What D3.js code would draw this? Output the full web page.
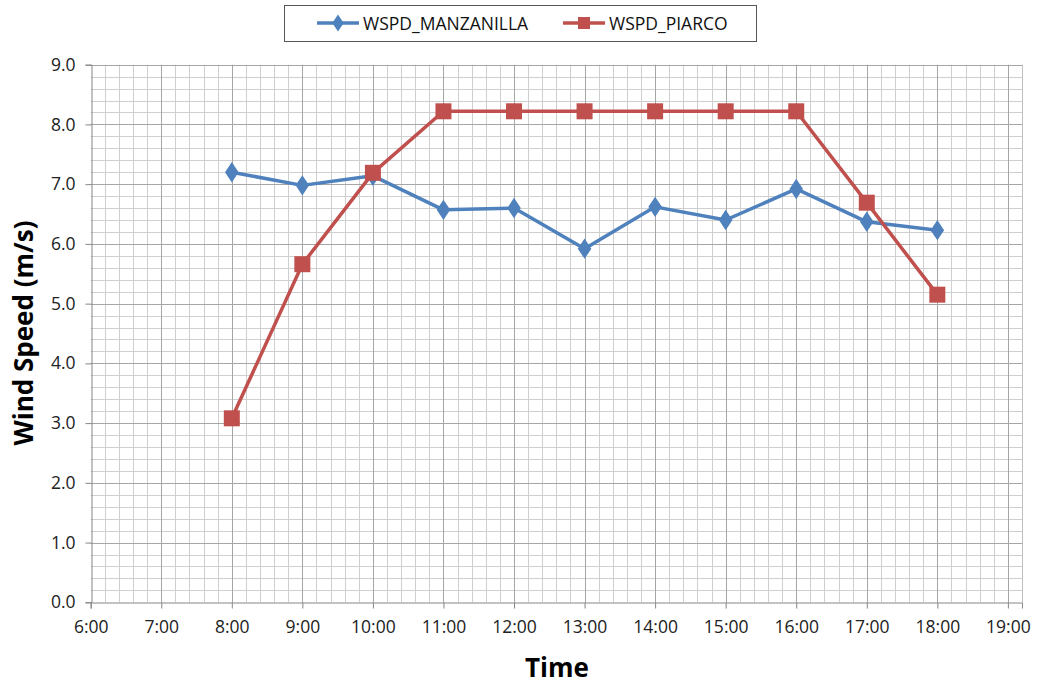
<!DOCTYPE html>
<html><head><meta charset="utf-8">
<script src="https://cdn.jsdelivr.net/npm/d3@7"></script>
<style>body{margin:0;background:#fff;} text{font-family:"Open Sans","Noto Sans",sans-serif;}</style>
</head><body>
<svg id="c" width="1038" height="684"></svg>
<script>
const hours = [8,9,10,11,12,13,14,15,16,17,18];
const manzanilla = [7.20,6.98,7.14,6.57,6.60,5.92,6.62,6.40,6.92,6.37,6.23];
const piarco = [3.08,5.66,7.19,8.22,8.22,8.22,8.22,8.22,8.22,6.69,5.15];
const xTickHours = [6,7,8,9,10,11,12,13,14,15,16,17,18,19];
const yTicks = [0,1,2,3,4,5,6,7,8,9];
const seriesNames = ["WSPD_MANZANILLA","WSPD_PIARCO"];

const svg = d3.select("#c");
const L=90.7, R=1022, T=64.7, B=602.3;
const x = d3.scaleLinear().domain([6,19.2]).range([L,R]);
const y = d3.scaleLinear().domain([0,9]).range([B,T]);

const g = svg.append("g");
const minorX = d3.range(0,67).map(i=>6+i*0.2).filter(v=>Math.abs(v-Math.round(v))>1e-6 && v<=19.2+1e-6);
const minorY = d3.range(0,46).map(i=>i*0.2).filter(v=>Math.abs(v-Math.round(v))>1e-6 && v<=9+1e-6);
g.selectAll(".mx").data(minorX).enter().append("line")
 .attr("x1",d=>Math.round(x(d))+0.5).attr("x2",d=>Math.round(x(d))+0.5).attr("y1",T).attr("y2",B)
 .attr("stroke","#cfcfcf").attr("stroke-width",1);
g.selectAll(".my").data(minorY).enter().append("line")
 .attr("y1",d=>Math.round(y(d))+0.5).attr("y2",d=>Math.round(y(d))+0.5).attr("x1",L).attr("x2",R)
 .attr("stroke","#cfcfcf").attr("stroke-width",1);
g.selectAll(".Mx").data(xTickHours.filter(h=>h>6)).enter().append("line")
 .attr("x1",d=>Math.round(x(d))+0.5).attr("x2",d=>Math.round(x(d))+0.5).attr("y1",T).attr("y2",B)
 .attr("stroke","#a6a6a6").attr("stroke-width",1);
g.selectAll(".My").data(yTicks.filter(v=>v>0)).enter().append("line")
 .attr("y1",d=>Math.round(y(d))+0.5).attr("y2",d=>Math.round(y(d))+0.5).attr("x1",L).attr("x2",R)
 .attr("stroke","#a6a6a6").attr("stroke-width",1);
g.append("line").attr("x1",Math.round(R)+0.5).attr("x2",Math.round(R)+0.5).attr("y1",T).attr("y2",B).attr("stroke","#bfbfbf");

const yAxis = d3.axisLeft(y).tickValues(yTicks).tickFormat(d3.format(".1f")).tickSize(6).tickPadding(10);
const ya = svg.append("g").attr("transform",`translate(${Math.round(L)+0.5},0)`).call(yAxis);
const xAxis = d3.axisBottom(x).tickValues(xTickHours).tickFormat(d=>d+":00").tickSize(6).tickPadding(12);
const xa = svg.append("g").attr("transform",`translate(0,${Math.round(B)+0.5})`).call(xAxis);
[ya,xa].forEach(a=>{a.attr("font-size",null).attr("font-family",null);
 a.select(".domain").attr("stroke","#868686");a.selectAll(".tick line").attr("stroke","#868686");
 a.selectAll("text").attr("fill","#222").style("font-size","17.5px").style("font-family","'Open Sans','Noto Sans',sans-serif");});

svg.append("text").attr("x",557).attr("y",677).attr("text-anchor","middle").style("font-size","26px").style("font-weight","bold").attr("fill","#000").text("Time");
svg.append("text").attr("transform","translate(33,333) rotate(-90)").attr("text-anchor","middle").style("font-size","26px").style("font-weight","bold").attr("fill","#000").text("Wind Speed (m/s)");

const blue="#4F81BD", red="#C0504D";
const line = d3.line().x(d=>x(d[0])).y(d=>y(d[1]));
const dm = hours.map((h,i)=>[h,manzanilla[i]]);
const dp = hours.map((h,i)=>[h,piarco[i]]);
svg.append("path").datum(dm).attr("d",line).attr("fill","none").attr("stroke",blue).attr("stroke-width",3.5).attr("stroke-linejoin","round");
svg.selectAll(".dia").data(dm).enter().append("path").attr("d",d3.symbol(d3.symbolDiamond,120)())
 .attr("transform",d=>`translate(${x(d[0])},${y(d[1])}) scale(1.15,1)`).attr("fill",blue);
svg.append("path").datum(dp).attr("d",line).attr("fill","none").attr("stroke",red).attr("stroke-width",3.5).attr("stroke-linejoin","round");
svg.selectAll(".sq").data(dp).enter().append("rect").attr("x",d=>x(d[0])-8).attr("y",d=>y(d[1])-8).attr("width",16).attr("height",16).attr("fill",red);

const lg = svg.append("g");
lg.append("rect").attr("x",284.5).attr("y",5.5).attr("width",472).attr("height",36).attr("fill","#fff").attr("stroke","#555").attr("stroke-width",1);
const items=[{n:seriesNames[0],c:blue,x0:317,t:"d"},{n:seriesNames[1],c:red,x0:563,t:"s"}];
items.forEach(it=>{
 lg.append("line").attr("x1",it.x0).attr("x2",it.x0+42).attr("y1",23).attr("y2",23).attr("stroke",it.c).attr("stroke-width",3.5);
 if(it.t==="d") lg.append("path").attr("d",d3.symbol(d3.symbolDiamond,85)()).attr("transform",`translate(${it.x0+21},23) scale(1.15,1)`).attr("fill",it.c);
 else lg.append("rect").attr("x",it.x0+15).attr("y",17).attr("width",12).attr("height",12).attr("fill",it.c);
 lg.append("text").attr("x",it.x0+46).attr("y",29.5).style("font-size","17.5px").attr("fill","#111").text(it.n);
});
</script>
</body></html>
